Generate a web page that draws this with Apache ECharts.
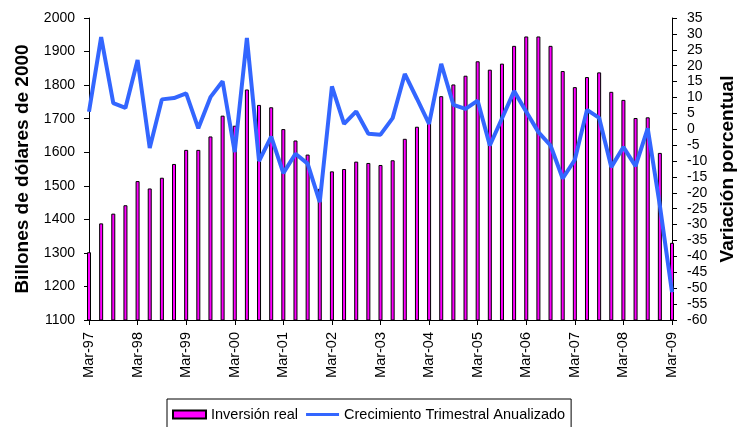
<!DOCTYPE html>
<html>
<head>
<meta charset="utf-8">
<script src="https://cdn.jsdelivr.net/npm/echarts@6/dist/echarts.min.js"></script>
<style>
  html, body { margin: 0; padding: 0; background: #fff; }
  #chart { width: 740px; height: 427px; }
</style>
</head>
<body>
<div id="chart"></div>
<script>
// trimestres Mar-97 .. Mar-09
const quarters = [
  'Mar-97','Jun-97','Sep-97','Dec-97','Mar-98','Jun-98','Sep-98','Dec-98',
  'Mar-99','Jun-99','Sep-99','Dec-99','Mar-00','Jun-00','Sep-00','Dec-00',
  'Mar-01','Jun-01','Sep-01','Dec-01','Mar-02','Jun-02','Sep-02','Dec-02',
  'Mar-03','Jun-03','Sep-03','Dec-03','Mar-04','Jun-04','Sep-04','Dec-04',
  'Mar-05','Jun-05','Sep-05','Dec-05','Mar-06','Jun-06','Sep-06','Dec-06',
  'Mar-07','Jun-07','Sep-07','Dec-07','Mar-08','Jun-08','Sep-08','Dec-08',
  'Mar-09'
];
// Inversión real (billones de dólares de 2000)
const inversion = [
  1302, 1388, 1417, 1442, 1514, 1492, 1524, 1565,
  1607, 1607, 1647, 1709, 1679, 1787, 1741, 1734,
  1669, 1635, 1593, 1491, 1543, 1550, 1572, 1568,
  1562, 1576, 1640, 1676, 1687, 1767, 1802, 1828,
  1871, 1846, 1864, 1917, 1945, 1945, 1917, 1842,
  1794, 1824, 1838, 1780, 1756, 1702, 1704, 1598,
  1330
];
// Crecimiento trimestral anualizado (%)
const crecimiento = [
  5.5, 29, 8.2, 6.7, 21.8, -5.9, 9.4, 9.8,
  11.3, 0.3, 10.1, 15.1, -7.2, 28.7, -10, -2.3,
  -13.8, -7.7, -10.8, -22.9, 13.5, 1.7, 5.6, -1.4,
  -1.7, 3.5, 17.4, 9.6, 1.7, 20.6, 7.7, 6.4,
  9.0, -5.1, 3.4, 12.0, 5.5, -0.9, -5.1, -15.5,
  -9.6, 6.1, 3.6, -11.9, -5.6, -11.6, 0.3, -24,
  -51.3
];

const font = "'Liberation Sans', Arial, sans-serif";
const chart = echarts.init(document.getElementById('chart'));

chart.setOption({
  animation: false,
  grid: { left: 89, right: 68, top: 18, bottom: 107, outerBoundsMode: 'none' },
  legend: {
    left: 167,
    top: 399,
    borderColor: '#000',
    borderWidth: 1,
    padding: [8, 6, 12, 5],
    itemGap: 8,
    itemWidth: 33,
    itemHeight: 8,
    textStyle: { fontFamily: font, fontSize: 14.5, color: '#000' },
    data: [
      { name: 'Inversión real', icon: 'rect' },
      { name: 'Crecimiento Trimestral Anualizado', icon: 'path://M0,0H33V3H0Z' }
    ]
  },
  xAxis: {
    type: 'category',
    data: quarters,
    boundaryGap: false,
    axisLine: { onZero: false, lineStyle: { color: '#000', width: 1 } },
    axisTick: { interval: 3, length: 5, lineStyle: { color: '#000' } },
    axisLabel: {
      interval: 3, rotate: 90, margin: 12,
      fontFamily: font, fontSize: 14.5, color: '#000'
    },
    splitLine: { show: false }
  },
  yAxis: [
    {
      type: 'value',
      min: 1100, max: 2000, interval: 100,
      name: 'Billones de dólares de 2000',
      nameLocation: 'middle',
      nameGap: 57,
      nameTextStyle: { fontFamily: font, fontSize: 19, fontWeight: 'bold', color: '#000' },
      axisLine: { show: true, lineStyle: { color: '#000', width: 1 } },
      axisTick: { show: true, length: 5, lineStyle: { color: '#000' } },
      axisLabel: { margin: 14, fontFamily: font, fontSize: 14, color: '#000',
        formatter: v => String(v) },
      splitLine: { show: false }
    },
    {
      type: 'value',
      min: -60, max: 35, interval: 5,
      name: 'Variación porcentual',
      nameLocation: 'middle',
      nameGap: 46,
      nameTextStyle: { fontFamily: font, fontSize: 19, fontWeight: 'bold', color: '#000' },
      position: 'right',
      axisLine: { show: true, onZero: false, lineStyle: { color: '#000', width: 1 } },
      axisTick: { show: true, length: 5, lineStyle: { color: '#000' } },
      axisLabel: { margin: 15, fontFamily: font, fontSize: 14, color: '#000' },
      splitLine: { show: false }
    }
  ],
  series: [
    {
      name: 'Inversión real',
      type: 'bar',
      data: inversion,
      barWidth: 4,
      itemStyle: { color: '#FF00FF', borderColor: '#000', borderWidth: 1 }
    },
    {
      name: 'Crecimiento Trimestral Anualizado',
      type: 'line',
      yAxisIndex: 1,
      data: crecimiento,
      symbol: 'none',
      lineStyle: { color: '#3366FF', width: 4 },
      itemStyle: { color: '#3366FF' },
      z: 3
    }
  ]
});
</script>
</body>
</html>
